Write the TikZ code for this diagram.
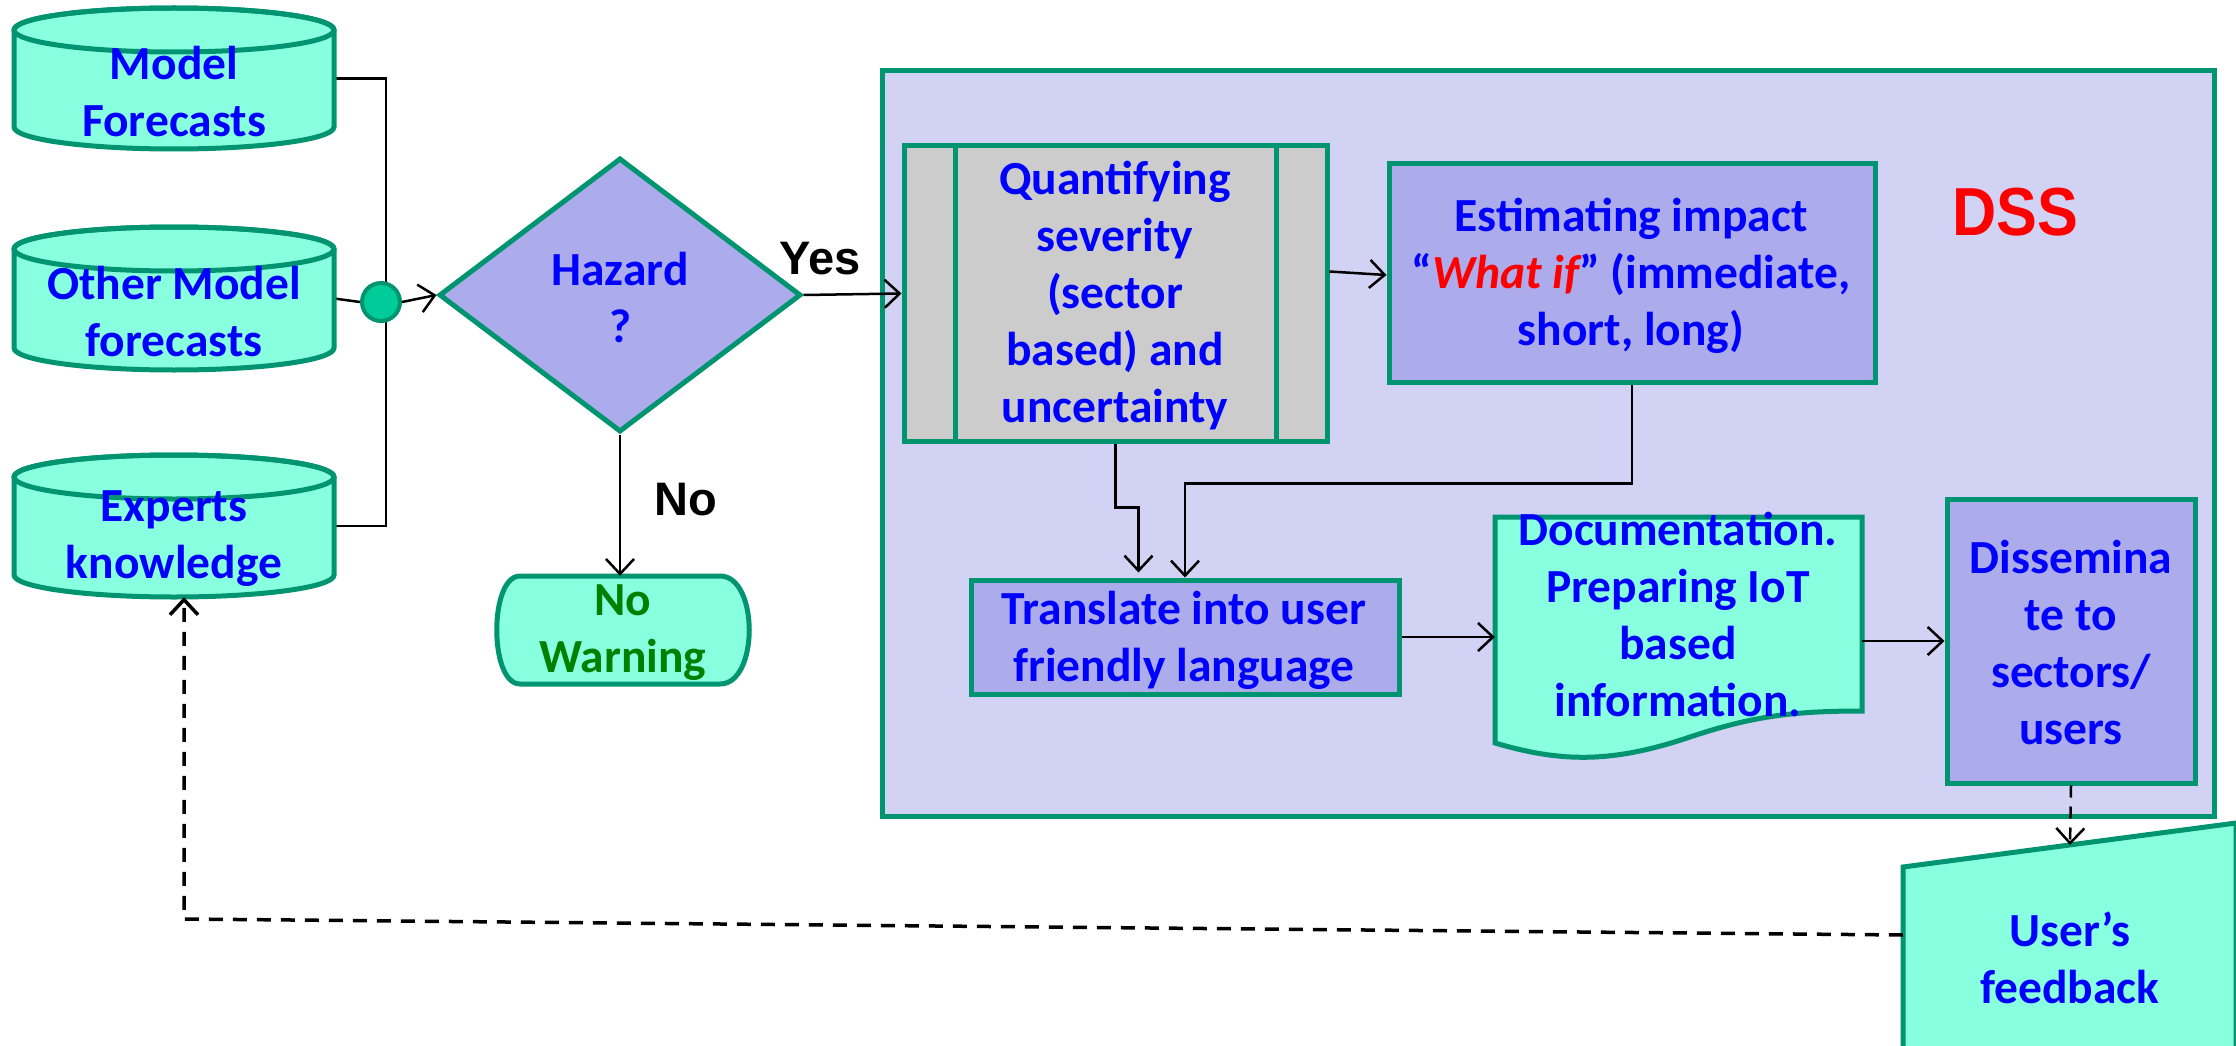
\documentclass[tikz,border=0pt]{standalone}
\usepackage{fontspec}
\setmainfont{Carlito}
\newfontfamily\arialfont{Liberation Sans}
\usetikzlibrary{arrows.meta,shapes.geometric,calc}
\pgfdeclarelayer{bg}
\pgfsetlayers{bg,main}
\definecolor{cyanf}{RGB}{136,255,222}
\definecolor{tealb}{RGB}{0,148,112}
\definecolor{lav}{RGB}{172,172,236}
\definecolor{dssf}{RGB}{210,211,244}
\definecolor{greyf}{RGB}{204,204,204}
\definecolor{dotf}{RGB}{0,204,153}
\definecolor{txtblue}{RGB}{0,0,255}
\definecolor{txtgreen}{RGB}{0,128,0}
\newcommand{\drawcyl}[3]{%
  \path[fill=cyanf, draw=tealb, line width=5pt] (#1-160,#2+22) -- (#1-160,#3-22)
     arc[start angle=180, end angle=0, x radius=160, y radius=22]
     -- (#1+160,#2+22)
     arc[start angle=0, end angle=-180, x radius=160, y radius=22] -- cycle;
  \draw[tealb, line width=5pt] (#1,#2+22) ellipse[x radius=160, y radius=22];}
\begin{document}
\begin{tikzpicture}[x=1pt,y=-1pt,
  lbl/.style={font=\bfseries\fontsize{47.5}{57}\selectfont, text=txtblue, align=center, inner sep=0pt},
  hole/.style={inner sep=0pt, draw=none},
  shapebox/.style={draw=tealb, line width=5pt, inner sep=0pt},
  wire/.style={line width=2.5pt, draw=black},
  conn/.style={wire, -{Straight Barb[length=15pt,width=28pt]}},
  dconn/.style={line width=3.5pt, draw=black, dash pattern=on 14pt off 10pt, -{Straight Barb[length=15pt,width=28pt]}},
  bigsans/.style={font=\arialfont\bfseries\fontsize{47}{52}\selectfont, inner sep=0pt}]
\useasboundingbox (0,0) rectangle (2236,1046);
\begin{pgfonlayer}{bg}
\fill[white] (0,0) rectangle (2236,1046);
\end{pgfonlayer}

% DSS container
\node[shapebox, fill=dssf, minimum width=1332, minimum height=746, anchor=north west] (dss) at (880,68) {};
\node[font=\arialfont\bfseries\fontsize{68}{78}\selectfont, text=red, inner sep=0pt] (dsslbl) at (2015,212) {\scalebox{0.9}[1]{DSS}};

% input cylinders
\drawcyl{174}{8}{149}
\drawcyl{174}{227}{370}
\drawcyl{174}{455}{597}
\node[hole, minimum width=320, minimum height=141] (mf) at (174,78.5) {};
\node[hole, minimum width=320, minimum height=143] (omf) at (174,298.5) {};
\node[hole, minimum width=320, minimum height=142] (ek) at (174,526) {};
\node[lbl] (mft) at (174,92) {Model\\Forecasts};
\node[lbl] (omft) at (174,312) {Other Model\\forecasts};
\node[lbl] (ekt) at (174,539) {Experts\\knowledge};

% decision
\node[diamond, shapebox, fill=lav, minimum width=362, minimum height=274, aspect=1.32] (hz) at (620,295) {};
\node[lbl] (hzt) at (620,297) {Hazard\\?};

% junction
\node[circle, fill=dotf, draw=tealb, line width=4pt, minimum size=38, inner sep=0pt] (jn) at (381,302) {};
\begin{pgfonlayer}{bg}
  \draw[wire] (mf.east) -- ++(52,0) |- (ek.east);
  \draw[wire] (omf.east) -- (jn.west);
\end{pgfonlayer}
\draw[conn] (jn.east) -- (hz.west);

% no warning
\node[hole, minimum width=252, minimum height=108] (nw) at (623,630) {};
\path[fill=cyanf, draw=tealb, line width=5pt] (520,576) -- (720,576)
   .. controls (759,576) and (759,684) .. (720,684) -- (520,684)
   .. controls (489,684) and (489,576) .. (520,576) -- cycle;
\node[lbl, text=txtgreen] (nwt) at (623,633) {No\\Warning};
\draw[conn] (hz.south) -- (hz.south |- nw.north);
\node[bigsans] (nolbl) at (686,500) {No};
\node[bigsans] (yeslbl) at (820,259) {Yes};

% DSS contents
\node[shapebox, fill=greyf, minimum width=423, minimum height=295] (qs) at (1115.5,293.5) {};
\draw[tealb, line width=5pt] ($(qs.north west)+(54,0)$) -- ($(qs.south west)+(54,0)$);
\draw[tealb, line width=5pt] ($(qs.north east)+(-53,0)$) -- ($(qs.south east)+(-53,0)$);
\node[lbl] (qst) at (1115,296) {Quantifying\\severity\\(sector\\based) and\\uncertainty};

\node[shapebox, fill=lav, minimum width=486, minimum height=218] (es) at (1632,273) {};
\node[lbl] (est) at (1631,276) {Estimating impact\\“\textcolor{red}{\itshape What if}” (immediate,\\short, long)};

\node[shapebox, fill=lav, minimum width=428, minimum height=114] (tr) at (1185,637) {};
\node[lbl] (trt) at (1184,640) {Translate into user\\friendly language};

\node[hole, minimum width=367, minimum height=246] (doc) at (1678.5,640) {};
\path[fill=cyanf, draw=tealb, line width=5pt] (1495,517) -- (1862,517) -- (1862,711)
   .. controls (1790,711) and (1750,717) .. (1690,737)
   .. controls (1610,764) and (1560,762) .. (1495,743) -- cycle;
\node[lbl] (doct) at (1678,614) {Documentation.\\Preparing IoT\\based\\information.};

\node[shapebox, fill=lav, minimum width=248, minimum height=284] (dis) at (2071,641) {};
\node[lbl] (dist) at (2071,643) {Dissemina\\te to\\sectors/\\users};

% user feedback
\node[hole, minimum width=333, minimum height=224] (fb) at (2069.5,935) {};
\path[fill=cyanf, draw=tealb, line width=5pt] (1903,867) -- (2236,823) -- (2236,1060) -- (1903,1060) -- cycle;
\node[lbl] (fbt) at (2070,958) {User’s\\feedback};
\coordinate (fbtop) at (2070,845);
\coordinate (corner) at (184,919);

% connectors
\draw[conn] (hz.east) -- (qs.west);
\draw[conn] ($(qs.east)+(0,-22)$) -- ($(es.west)+(0,2)$);
\draw[conn] (qs.south) |- ++(23,64) -- ++(0,65);
\draw[conn] (es.south) -- ++(0,99) -| (tr.north);
\draw[conn] (tr.east) -- (tr.east -| doc.west);
\draw[conn] (doc.east |- dis.west) -- (dis.west);
\draw[line width=2.5pt, dash pattern=on 12pt off 9pt, -{Straight Barb[length=15pt,width=28pt]}] (dis.south) -- (fbtop);
\draw[dconn] (fb.west) -- (corner) -- (corner |- ek.south);
\end{tikzpicture}
\end{document}
